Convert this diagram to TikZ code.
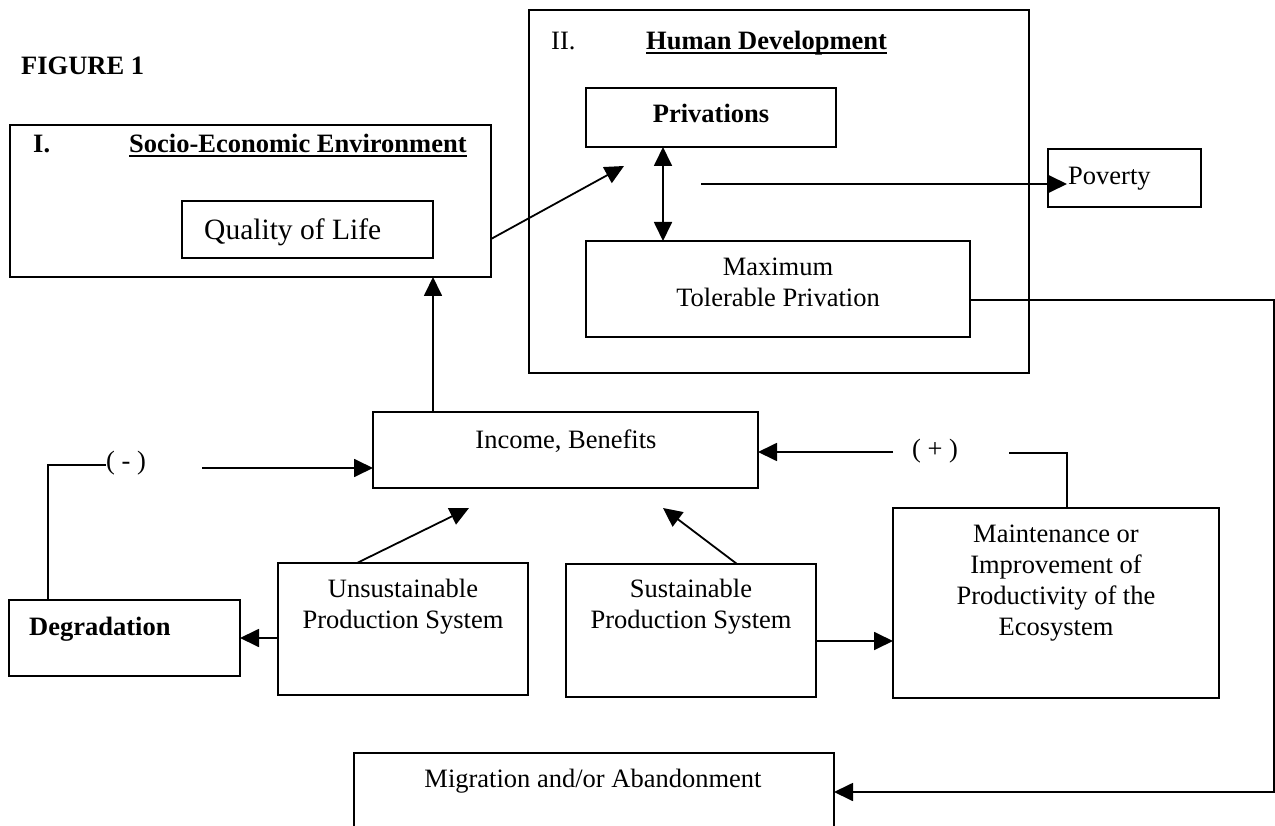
\documentclass[tikz,border=0pt]{standalone}
\usepackage{fontspec}
\setmainfont{Liberation Serif}
\usetikzlibrary{arrows.meta}
\newcommand\myul[1]{\setbox0\hbox{#1}\rlap{\rule[-4pt]{\wd0}{1.6pt}}\box0}
\begin{document}
\begin{tikzpicture}[x=1pt,y=-1pt,
  box/.style={draw, line width=1.8pt, inner sep=0pt, outer sep=0pt, anchor=north west},
  lbl/.style={inner sep=0pt, font=\fontsize{26.5}{30.7}\selectfont},
  blbl/.style={inner sep=0pt, font=\fontsize{26.5}{30.7}\selectfont\bfseries},
  ln/.style={line width=1.8pt},
  arr/.style={line width=1.8pt, -{Triangle[length=19pt,width=18pt]}},
  arrboth/.style={line width=1.8pt, {Triangle[length=19pt,width=18pt]}-{Triangle[length=19pt,width=18pt]}},
]
\clip (0,0) rectangle (1275,826);
\useasboundingbox (0,0) rectangle (1275,826);
\fill[white] (0,0) rectangle (1275,826);

% boxes
\node[box, minimum width=481, minimum height=152] (boxI) at (10,125) {};
\node[box, minimum width=251, minimum height=57] (qol) at (182,201) {};
\node[box, minimum width=500, minimum height=363] (boxII) at (529,10) {};
\node[box, minimum width=250, minimum height=59] (priv) at (586,88) {};
\node[box, minimum width=384, minimum height=96] (maxb) at (586,241) {};
\node[box, minimum width=153, minimum height=58] (pov) at (1048,149) {};
\node[box, minimum width=385, minimum height=76] (inc) at (373,412) {};
\node[box, minimum width=231, minimum height=76] (deg) at (9,600) {};
\node[box, minimum width=250, minimum height=132] (unsus) at (278,563) {};
\node[box, minimum width=250, minimum height=133] (sus) at (566,564) {};
\node[box, minimum width=326, minimum height=190] (maint) at (893,508) {};
\node[box, minimum width=480, minimum height=97] (mig) at (354,753) {};

% texts (multi-line nodes: base = baseline of last line)
\node[blbl, anchor=base west] (fig) at (21,75) {FIGURE 1};
\node[blbl, anchor=base west] (tI) at (33,153) {I.};
\node[blbl, anchor=base west] (tSE) at (129,153) {\myul{Socio-Economic Environment}};
\node[inner sep=0pt, font=\fontsize{29.5}{34}\selectfont, anchor=base west] (tQ) at (204,240) {Quality of Life};
\node[lbl, anchor=base west] (tII) at (551,50) {II.};
\node[blbl, anchor=base west] (tHD) at (646,50) {\myul{Human Development}};
\node[blbl, anchor=base] (tPriv) at (711,123) {Privations};
\node[lbl, anchor=base, align=center] (tMax) at (778,306.5) {Maximum\\Tolerable Privation};
\node[lbl, anchor=base west] (tPov) at (1068,185) {Poverty};
\node[lbl, anchor=base] (tInc) at (566,448) {Income, Benefits};
\node[lbl, anchor=base west] (tminus) at (106,469) {( - )};
\node[lbl, anchor=base west] (tplus) at (912,457) {( + )};
\node[blbl, anchor=base west] (tDeg) at (29,635) {Degradation};
\node[lbl, anchor=base, align=center] (tUns) at (403,628.5) {Unsustainable\\Production System};
\node[lbl, anchor=base, align=center] (tSus) at (691,628.5) {Sustainable\\Production System};
\node[lbl, anchor=base, align=center] (tMaint) at (1056,635) {Maintenance or\\Improvement of\\Productivity of the\\Ecosystem};
\node[lbl, anchor=base] (tMig) at (593,787) {Migration and/or Abandonment};

% connectors
\draw[arr] (inc.north -| qol.east) -- (boxI.south -| qol.east);
\coordinate (qtip) at (624,166);
\draw[arr] ([yshift=-38pt]boxI.east) -- (qtip);
\coordinate (dx) at (663,0);
\draw[arrboth] (priv.south -| dx) -- (maxb.north -| dx);
\coordinate (povs) at (701,184);
\coordinate (povtip) at ([xshift=19pt]pov.west);
\draw[arr] (povs) -- (povtip |- povs);
\coordinate (rx) at (1274,300);
\coordinate (ry) at (1274,792);
\draw[arr] (maxb.east |- rx) -- (rx) -- (ry) -- (mig.east |- ry);
\coordinate (mc) at (48,465);
\draw[ln] (deg.north -| mc) -- (mc) -- (tminus.west |- mc);
\coordinate (ms) at (202,468);
\draw[arr] (ms) -- (inc.west |- ms);
\coordinate (ps) at (893,452);
\draw[arr] (ps) -- (inc.east |- ps);
\coordinate (pe) at (1009,453);
\coordinate (pc) at (1067,453);
\draw[ln] (pe) -- (pc) -- (maint.north -| pc);
\coordinate (ux) at (357,0);
\coordinate (ut) at (469,508);
\draw[arr] (unsus.north -| ux) -- (ut);
\coordinate (sx) at (737,0);
\coordinate (st) at (663,508);
\draw[arr] (sus.north -| sx) -- (st);
\coordinate (uy) at (0,638);
\draw[arr] (unsus.west |- uy) -- (deg.east |- uy);
\coordinate (sy) at (0,641);
\draw[arr] (sus.east |- sy) -- (maint.west |- sy);
\end{tikzpicture}
\end{document}
